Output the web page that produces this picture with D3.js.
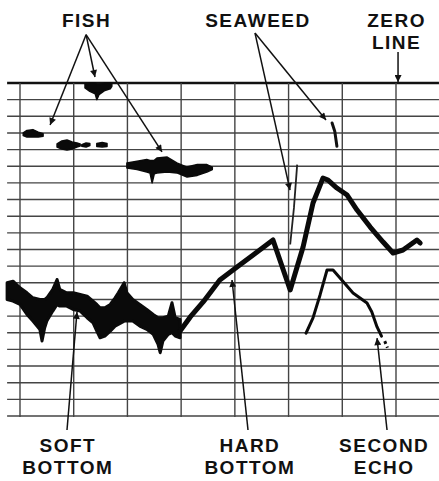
<!DOCTYPE html>
<html><head><meta charset="utf-8">
<script src="https://cdn.jsdelivr.net/npm/d3@7"></script>
<style>
html,body{margin:0;padding:0;background:#fff;}
svg{display:block;}
text{font-family:"Liberation Sans",Arial,sans-serif;font-weight:bold;fill:#111;}
</style></head>
<body>
<svg id="chart" width="439" height="481"></svg>
<script>
// ---- data (time units across, depth units down; gridlines every 10 time units / 1 depth unit)
const timeGrid = [10, 20, 30, 40, 50, 60, 70, 80];
const depthGrid = [0,1,2,3,4,5,6,7,8,9,10,11,12,13,14,15,16,17,18,19,20];
const timeExtent = [7.6, 88];

// soft bottom echo band: [time, top depth, bottom depth]
const softBottom = [
  [7.6,12.0,13.0],[8.7,11.9,13.1],[10.0,12.3,13.3],[11.3,12.6,13.9],[12.4,12.9,14.3],
  [13.7,13.0,14.8],[14.1,13.0,15.5],[14.6,13.0,14.7],[15.0,12.9,14.3],[16.1,12.4,13.7],
  [16.9,11.8,13.3],[17.4,12.4,13.4],[18.7,12.6,13.4],[19.9,12.6,13.6],[21.2,12.7,13.7],
  [22.5,12.8,14.1],[23.6,13.1,14.4],[24.3,13.3,14.9],[24.9,13.5,15.3],[25.8,13.5,15.2],
  [26.8,13.3,14.9],[27.7,12.9,14.6],[28.3,12.6,14.5],[29.4,12.0,14.3],[29.9,12.6,14.3],
  [31.0,13.0,14.3],[32.3,13.3,14.6],[33.6,13.6,14.8],[34.8,13.9,15.1],[35.7,14.1,15.7],
  [36.1,14.1,16.2],[36.6,14.1,15.5],[37.6,14.0,15.1],[38.3,13.2,15.0],[38.9,14.1,15.2],
  [39.8,14.2,15.3]
];
// hard bottom trace: [time, depth]
const hardBottom = [
  [39.8,14.9],[41.7,14.05],[44.1,13.15],[47.2,11.83],[50.4,11.05],[53.4,10.33],[57.1,9.43],
  [60.3,12.43],[62.7,9.85],[64.55,7.21],[66.4,5.71],[67.35,5.83],[69.0,6.31],[70.9,6.73],
  [72.75,7.63],[75.2,8.65],[77.6,9.55],[79.45,10.21],[81.3,10.03],[83.9,9.43],[84.5,9.61]
];
// second echo trace
const secondEcho = [
  [63.25,15.02],[64.55,14.11],[65.86,12.73],[67.16,11.23],[68.28,11.23],[69.58,11.71],
  [72.0,12.61],[74.6,13.21],[75.5,13.75],[76.47,14.65],[77.3,15.2]
];
const secondEchoTail = [[77.9,15.5],[78.4,15.9]];
// seaweed strands
const seaweed1 = [[61.6,4.9],[61.0,7.5],[60.3,9.7]];
const seaweed2 = [[68.1,2.4],[68.6,2.9],[69.0,3.8]];
// fish schools: [time, top depth, bottom depth]
const fish1 = [[10.6,3.0,3.15],[11.3,2.85,3.25],[12.4,2.8,3.25],[13.4,2.95,3.25],[14.3,3.05,3.2]];
const fish2 = [[16.9,3.66,3.84],[17.8,3.48,3.96],[18.75,3.42,4.02],[19.7,3.54,3.96],[20.6,3.6,3.84],[21.2,3.66,3.78]];
const fish2b = [[21.5,3.7,3.8],[22.3,3.6,3.84],[23.0,3.63,3.75]];
const fish2c = [[24.3,3.63,3.81],[25.3,3.57,3.84],[26.2,3.63,3.81]];
const fish3 = [[22.1,0.05,0.3],[23.0,0,0.5],[24.0,0,0.65],[24.3,0.1,1.0],[24.7,0.1,0.7],[25.8,0,0.45],[26.8,0,0.35],[27.1,0.05,0.2]];
const fish4 = [[29.9,4.8,5.1],[31.8,4.7,5.2],[33.6,4.6,5.35],[34.2,4.65,5.4],[34.6,4.65,6.0],[35.0,4.65,5.45],
  [35.5,4.5,5.4],[37.4,4.45,5.35],[39.2,4.8,5.4],[41.1,5.05,5.65],[43.0,4.9,5.55],[44.8,4.9,5.35],[45.8,5.05,5.2]];

// annotations (label lines, label anchor [time, depth of first baseline], arrow apex, arrow targets)
const topLabels = [
  {lines:["FISH"], at:[22.4,-3.36], apex:[22.3,-2.9], targets:[[15.6,2.52],[23.96,-0.36],[36.44,4.14]]},
  {lines:["SEAWEED"], at:[54.3,-3.36], apex:[53.75,-3.0], targets:[[60.27,6.43],[66.97,2.22]]},
  {lines:["ZERO","LINE"], at:[80.1,-3.36], apex:[80.38,-1.86], targets:[[80.38,-0.06]]}
];
const bottomLabels = [
  {lines:["SOFT","BOTTOM"], at:[18.9,22.16], from:[18.75,20.84], to:[20.61,13.75]},
  {lines:["HARD","BOTTOM"], at:[52.8,22.16], from:[52.45,20.84], to:[49.47,11.83]},
  {lines:["SECOND","ECHO"], at:[77.8,22.16], from:[78.33,20.84], to:[76.47,15.32]}
];

// ---- drawing
const svg = d3.select("#chart");
const x = d3.scaleLinear().domain([10, 80]).range([20, 396]);
const y = d3.scaleLinear().domain([0, 20]).range([83, 416]);
const lineHeight = 22;

svg.append("defs").append("marker")
  .attr("id","ah").attr("viewBox","0 0 10 10").attr("refX",10).attr("refY",5)
  .attr("markerWidth",9).attr("markerHeight",7).attr("markerUnits","userSpaceOnUse")
  .attr("orient","auto")
  .append("path").attr("d","M0,0 L10,5 L0,10 z").attr("fill","#111");

const grid = svg.append("g");
grid.selectAll("line.h").data(depthGrid).join("line")
  .attr("x1", x(timeExtent[0])).attr("x2", x(timeExtent[1]))
  .attr("y1", d => y(d)).attr("y2", d => y(d))
  .attr("stroke", d => d === 0 ? "#111" : "#444")
  .attr("stroke-width", d => d === 0 ? 2.6 : 1.4);
grid.selectAll("line.v").data(timeGrid).join("line")
  .attr("x1", d => x(d)).attr("x2", d => x(d))
  .attr("y1", y(0)).attr("y2", y(20) + 1)
  .attr("stroke", "#444").attr("stroke-width", 1.4);

const band = d3.area().x(d => x(d[0])).y0(d => y(d[1])).y1(d => y(d[2])).curve(d3.curveLinear);
const line = d3.line().x(d => x(d[0])).y(d => y(d[1])).curve(d3.curveLinear);

const ink = svg.append("g");
ink.append("path").attr("d", band(softBottom)).attr("fill","#0a0a0a")
  .attr("stroke","#0a0a0a").attr("stroke-width",3).attr("stroke-linejoin","round");
[fish1, fish2, fish2b, fish2c, fish3, fish4].forEach(s => {
  ink.append("path").attr("d", band(s)).attr("fill","#0a0a0a")
    .attr("stroke","#0a0a0a").attr("stroke-width",1.5).attr("stroke-linejoin","round");
});
ink.append("path").attr("d", line(hardBottom)).attr("fill","none")
  .attr("stroke","#0a0a0a").attr("stroke-width",5).attr("stroke-linejoin","round").attr("stroke-linecap","round");
ink.append("path").attr("d", line(secondEcho)).attr("fill","none")
  .attr("stroke","#0a0a0a").attr("stroke-width",3).attr("stroke-linejoin","round").attr("stroke-linecap","round");
ink.append("path").attr("d", line(secondEchoTail)).attr("fill","none")
  .attr("stroke","#0a0a0a").attr("stroke-width",3).attr("stroke-dasharray","3,3");
ink.append("path").attr("d", line(seaweed1)).attr("fill","none")
  .attr("stroke","#222").attr("stroke-width",1.8);
ink.append("path").attr("d", line(seaweed2)).attr("fill","none")
  .attr("stroke","#111").attr("stroke-width",3).attr("stroke-linecap","round");

const ann = svg.append("g");
topLabels.forEach(a => {
  a.targets.forEach(t => {
    ann.append("line").attr("x1", x(a.apex[0])).attr("y1", y(a.apex[1]))
      .attr("x2", x(t[0])).attr("y2", y(t[1]))
      .attr("stroke","#111").attr("stroke-width",1.5).attr("marker-end","url(#ah)");
  });
  a.lines.forEach((s, i) => {
    ann.append("text").attr("x", x(a.at[0])).attr("y", y(a.at[1]) + i * lineHeight)
      .attr("text-anchor","middle").attr("font-size",19).attr("letter-spacing",1.5).text(s);
  });
});
bottomLabels.forEach(a => {
  ann.append("line").attr("x1", x(a.from[0])).attr("y1", y(a.from[1]))
    .attr("x2", x(a.to[0])).attr("y2", y(a.to[1]))
    .attr("stroke","#111").attr("stroke-width",1.5).attr("marker-end","url(#ah)");
  a.lines.forEach((s, i) => {
    ann.append("text").attr("x", x(a.at[0])).attr("y", y(a.at[1]) + i * lineHeight)
      .attr("text-anchor","middle").attr("font-size",19).attr("letter-spacing",1.5).text(s);
  });
});
</script>
</body></html>
